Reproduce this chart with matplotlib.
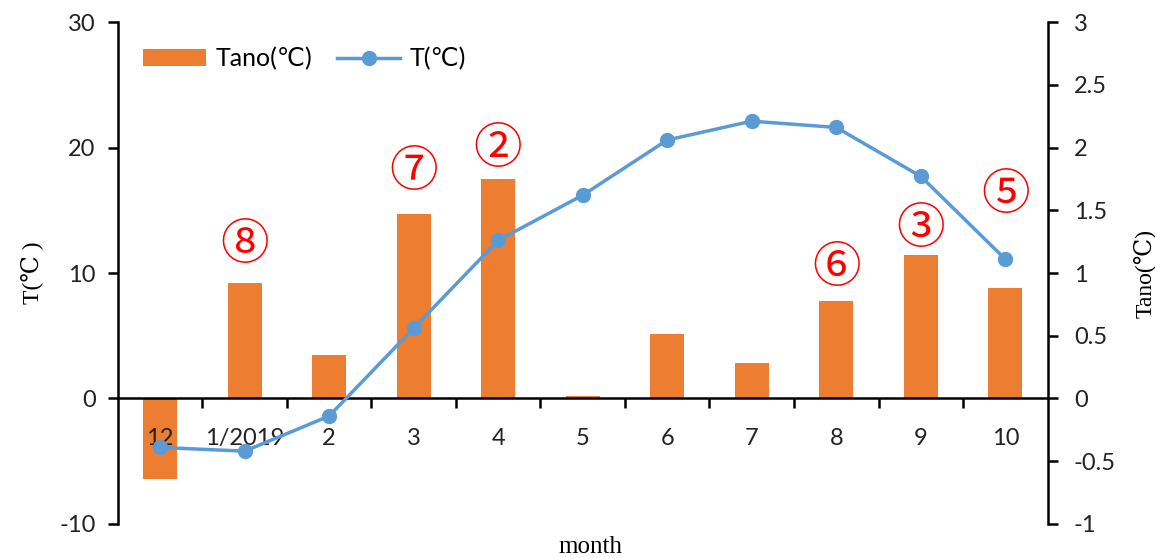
import matplotlib
matplotlib.use("Agg")
import matplotlib.pyplot as plt
from matplotlib.ticker import FixedLocator

months = ["12", "1/2019", "2", "3", "4", "5", "6", "7", "8", "9", "10"]
tano = [-0.64, 0.92, 0.35, 1.47, 1.75, 0.02, 0.51, 0.28, 0.78, 1.14, 0.88]
temp = [-3.9, -4.2, -1.4, 5.6, 12.6, 16.2, 20.6, 22.1, 21.6, 17.7, 11.1]

# circled labels: (category index, text, height in T units)
marks = [(1, "⑧", 12.2), (3, "⑦", 18.0), (4, "②", 19.9),
         (8, "⑥", 10.4), (9, "③", 13.5), (10, "⑤", 16.2)]

left_ticks = [-10, 0, 10, 20, 30]
right_ticks = [-1, -0.5, 0, 0.5, 1, 1.5, 2, 2.5, 3]
right_labels = ["-1", "-0.5", "0", "0.5", "1", "1.5", "2", "2.5", "3"]

ORANGE = "#ED7D31"
BLUE = "#5B9BD5"
SANS = ["Lato", "DejaVu Sans"]
SERIF = ["Liberation Serif", "DejaVu Serif"]
FS = 17

fig = plt.figure(figsize=(11.55, 5.58), dpi=100)
ax = fig.add_axes([0.102, 0.061, 0.805, 0.8995])
ax2 = ax.twinx()

x = list(range(len(months)))

ax2.bar(x, tano, width=0.4, color=ORANGE, label="Tano(℃)", zorder=2)
ax2.set_ylim(-1, 3)
ax2.set_yticks(right_ticks)
ax2.set_yticklabels(right_labels, fontsize=FS, family=SANS, color="#222222")

ax.plot(x, temp, color=BLUE, lw=2.5, marker="o", ms=10, label="T(℃)", zorder=5)
ax.set_ylim(-10, 30)
ax.set_xlim(-0.5, len(months) - 0.5)
ax.set_yticks(left_ticks)
ax.set_yticklabels([str(v) for v in left_ticks], fontsize=FS, family=SANS, color="#222222")

# line on top of bars
ax.set_zorder(ax2.get_zorder() + 1)
ax.patch.set_visible(False)

for a in (ax, ax2):
    a.spines["top"].set_visible(False)
    a.spines["bottom"].set_visible(False)
ax.spines["left"].set_linewidth(1.8)
ax2.spines["right"].set_linewidth(1.8)
ax2.spines["left"].set_visible(False)
ax.spines["right"].set_visible(False)
ax.tick_params(axis="y", direction="out", length=7, width=1.8, pad=9)
ax2.tick_params(axis="y", direction="out", length=7, width=1.8, pad=12)

# x axis at zero
ax.spines["bottom"].set_visible(True)
ax.spines["bottom"].set_position(("data", 0))
ax.spines["bottom"].set_linewidth(1.8)
ax.set_xticks(x)
ax.set_xticklabels(months, fontsize=FS, family=SANS, color="#222222")
ax.xaxis.set_minor_locator(FixedLocator([i + 0.5 for i in x[:-1]]))
ax.tick_params(axis="x", which="major", length=0, pad=21)
ax.tick_params(axis="x", which="minor", length=7, width=1.8, direction="out")

for i, t, h in marks:
    ax.text(i, h, t, ha="center", va="center", fontsize=35, color="red",
            family=["Noto Sans CJK SC", "DejaVu Sans"], zorder=6)

ax.set_ylabel("T(℃ )", fontsize=FS, family=SERIF, labelpad=12)
ax2.set_ylabel("Tano(℃)", fontsize=FS, family=SERIF, labelpad=12)
fig.text(0.511, 0.0, "month", fontsize=18, family=SERIF, ha="center", va="bottom")

h1, l1 = ax2.get_legend_handles_labels()
h2, l2 = ax.get_legend_handles_labels()
ax.legend(h1 + h2, l1 + l2, loc="upper left", ncol=2, frameon=False,
          prop={"family": SANS, "size": 18}, bbox_to_anchor=(0.003, 0.995),
          handlelength=2.5, columnspacing=1.0, handletextpad=0.4)

fig.savefig("out.png", dpi=100)
